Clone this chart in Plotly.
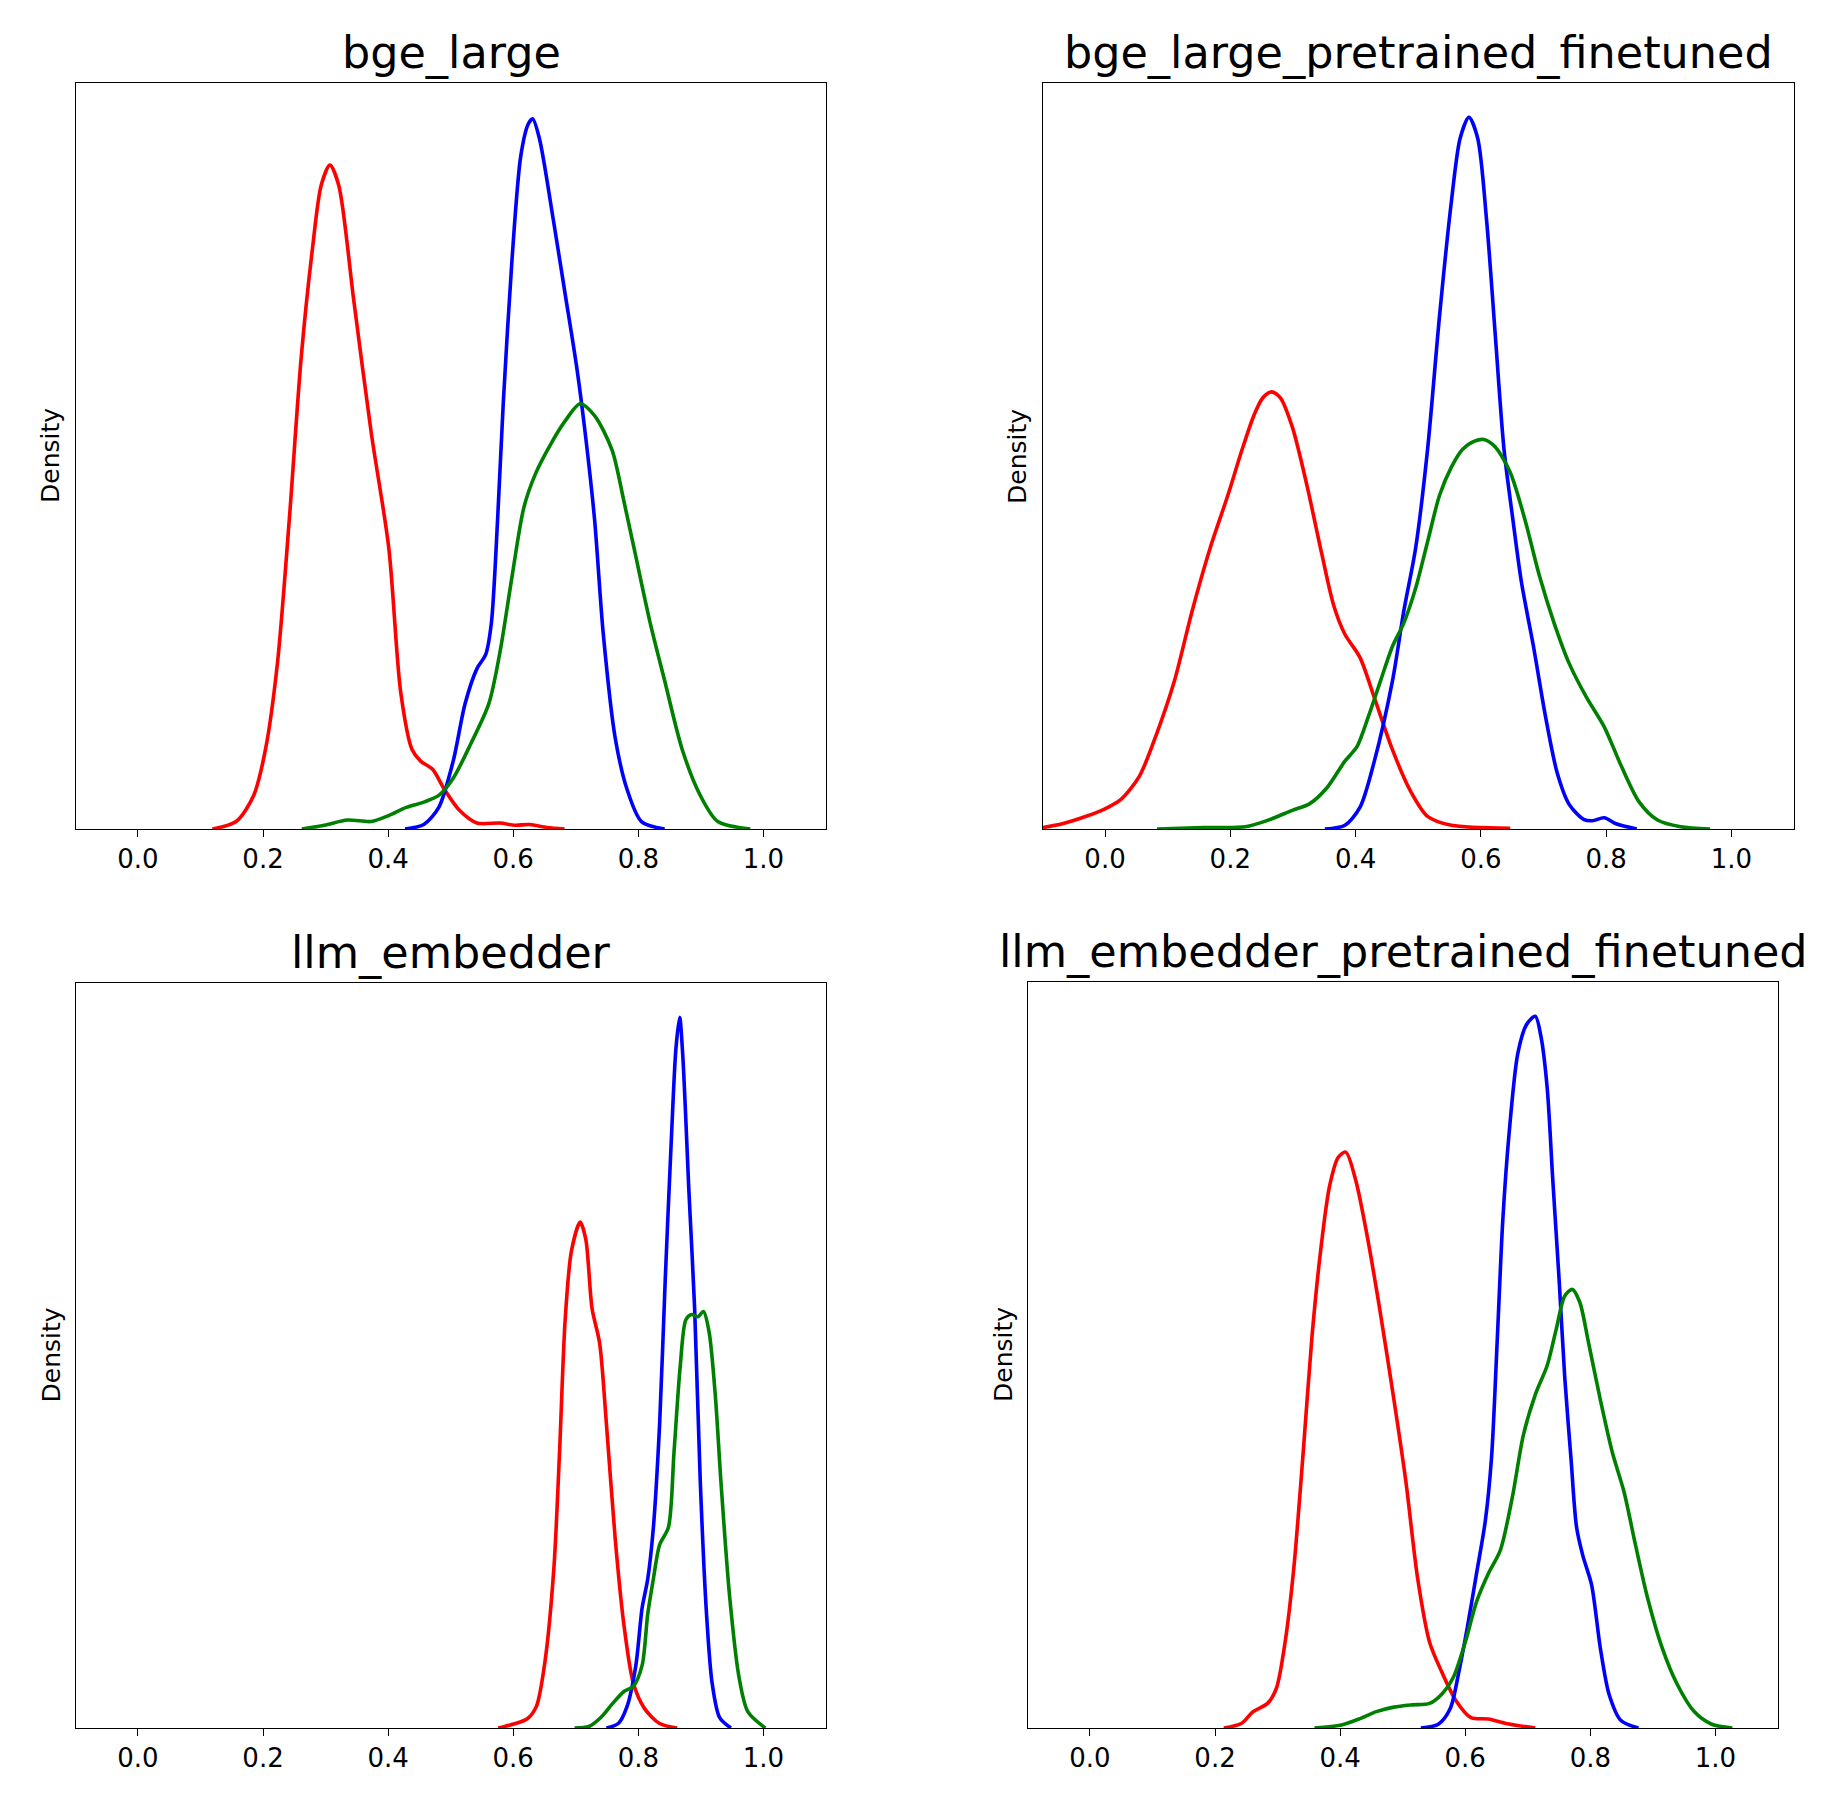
import plotly.graph_objects as go
from plotly.subplots import make_subplots

W, H = 1844, 1809

titles = ["bge_large", "bge_large_pretrained_finetuned",
          "llm_embedder", "llm_embedder_pretrained_finetuned"]

tick_vals = [0.0, 0.2, 0.4, 0.6, 0.8, 1.0]
tick_text = ["0.0", "0.2", "0.4", "0.6", "0.8", "1.0"]

# curves, y is relative density (axes height = 1)
# --- bge_large
bge_red_x = [0.119, 0.157, 0.185, 0.204, 0.223, 0.242, 0.261, 0.279, 0.293, 0.307, 0.321, 0.345,
             0.373, 0.401, 0.420, 0.438, 0.452, 0.471, 0.490, 0.514, 0.542, 0.579, 0.603, 0.626,
             0.654, 0.682]
bge_red_y = [0.0, 0.010, 0.045, 0.107, 0.222, 0.415, 0.632, 0.778, 0.863, 0.890, 0.863, 0.709,
             0.531, 0.377, 0.184, 0.107, 0.091, 0.080, 0.053, 0.025, 0.008, 0.008, 0.005, 0.006,
             0.002, 0.0]
bge_blue_x = [0.427, 0.457, 0.481, 0.504, 0.523, 0.542, 0.556, 0.565, 0.575, 0.584, 0.598, 0.612,
              0.624, 0.631, 0.642, 0.664, 0.683, 0.702, 0.716, 0.730, 0.744, 0.763, 0.782, 0.805,
              0.842]
bge_blue_y = [0.0, 0.006, 0.029, 0.091, 0.168, 0.215, 0.234, 0.276, 0.415, 0.570, 0.763, 0.902,
              0.945, 0.952, 0.925, 0.817, 0.717, 0.616, 0.524, 0.415, 0.261, 0.122, 0.053, 0.010,
              0.0]
bge_green_x = [0.262, 0.298, 0.335, 0.373, 0.401, 0.429, 0.457, 0.481, 0.504, 0.532, 0.561, 0.579,
               0.598, 0.617, 0.636, 0.660, 0.683, 0.707, 0.730, 0.758, 0.777, 0.795, 0.819, 0.842,
               0.870, 0.899, 0.927, 0.979]
bge_green_y = [0.0, 0.005, 0.012, 0.010, 0.018, 0.029, 0.036, 0.045, 0.068, 0.114, 0.168, 0.238,
               0.338, 0.431, 0.477, 0.516, 0.547, 0.570, 0.554, 0.508, 0.439, 0.369, 0.276, 0.199,
               0.107, 0.045, 0.010, 0.0]

# --- bge_large_pretrained_finetuned
bgeft_red_x = [-0.099, -0.068, -0.030, 0.0, 0.026, 0.055, 0.083, 0.111, 0.139, 0.168, 0.196, 0.219,
               0.238, 0.252, 0.266, 0.280, 0.299, 0.322, 0.346, 0.365, 0.383, 0.407, 0.430, 0.459,
               0.487, 0.515, 0.553, 0.647]
bgeft_red_y = [0.002, 0.007, 0.017, 0.027, 0.040, 0.071, 0.129, 0.199, 0.292, 0.377, 0.447, 0.509,
               0.555, 0.578, 0.586, 0.578, 0.539, 0.462, 0.369, 0.300, 0.261, 0.230, 0.176, 0.106,
               0.052, 0.017, 0.005, 0.001]
bgeft_blue_x = [0.351, 0.383, 0.407, 0.430, 0.459, 0.477, 0.496, 0.515, 0.534, 0.553, 0.567, 0.581,
                0.595, 0.609, 0.623, 0.637, 0.651, 0.665, 0.684, 0.703, 0.722, 0.741, 0.764, 0.778,
                0.797, 0.816, 0.849]
bgeft_blue_y = [0.0, 0.005, 0.029, 0.091, 0.199, 0.292, 0.377, 0.509, 0.687, 0.841, 0.926, 0.954,
                0.926, 0.818, 0.663, 0.509, 0.416, 0.330, 0.245, 0.152, 0.075, 0.033, 0.013, 0.011,
                0.015, 0.007, 0.0]
bgeft_green_x = [0.083, 0.158, 0.224, 0.261, 0.299, 0.327, 0.355, 0.383, 0.402, 0.421, 0.440, 0.459,
                 0.477, 0.496, 0.515, 0.534, 0.553, 0.571, 0.590, 0.605, 0.623, 0.647, 0.670, 0.694,
                 0.717, 0.741, 0.769, 0.797, 0.825, 0.853, 0.882, 0.919, 0.966]
bgeft_green_y = [0.0, 0.002, 0.003, 0.012, 0.025, 0.034, 0.056, 0.091, 0.110, 0.152, 0.199, 0.245,
                 0.276, 0.323, 0.385, 0.447, 0.485, 0.509, 0.520, 0.522, 0.512, 0.478, 0.416, 0.338,
                 0.276, 0.222, 0.176, 0.137, 0.083, 0.036, 0.012, 0.003, 0.0]

# --- llm_embedder
llm_red_x = [0.576, 0.599, 0.622, 0.637, 0.651, 0.665, 0.674, 0.683, 0.693, 0.707, 0.716, 0.726,
             0.738, 0.749, 0.763, 0.777, 0.792, 0.810, 0.834, 0.862]
llm_red_y = [0.0, 0.005, 0.012, 0.029, 0.091, 0.215, 0.370, 0.548, 0.640, 0.679, 0.656, 0.563,
             0.517, 0.408, 0.254, 0.138, 0.060, 0.026, 0.006, 0.0]
llm_blue_x = [0.749, 0.768, 0.782, 0.796, 0.806, 0.815, 0.824, 0.834, 0.843, 0.853, 0.860, 0.866,
              0.871, 0.881, 0.890, 0.899, 0.909, 0.918, 0.930, 0.948]
llm_blue_y = [0.0, 0.006, 0.029, 0.084, 0.161, 0.200, 0.269, 0.408, 0.602, 0.795, 0.911, 0.954,
              0.903, 0.718, 0.563, 0.331, 0.153, 0.060, 0.014, 0.0]
llm_green_x = [0.698, 0.721, 0.740, 0.759, 0.777, 0.792, 0.806, 0.815, 0.824, 0.834, 0.848, 0.857,
               0.867, 0.876, 0.885, 0.895, 0.904, 0.913, 0.923, 0.932, 0.946, 0.961, 0.975, 1.003]
llm_green_y = [0.0, 0.002, 0.014, 0.033, 0.049, 0.056, 0.084, 0.153, 0.200, 0.246, 0.269, 0.370,
               0.486, 0.548, 0.555, 0.552, 0.559, 0.532, 0.447, 0.331, 0.176, 0.068, 0.022, 0.0]

# --- llm_embedder_pretrained_finetuned
llmft_red_x = [0.214, 0.242, 0.261, 0.284, 0.298, 0.312, 0.326, 0.341, 0.355, 0.369, 0.383, 0.397,
               0.409, 0.425, 0.444, 0.463, 0.486, 0.505, 0.524, 0.543, 0.562, 0.585, 0.609, 0.637,
               0.665, 0.712]
llmft_red_y = [0.0, 0.006, 0.022, 0.033, 0.053, 0.115, 0.215, 0.370, 0.525, 0.641, 0.726, 0.765,
               0.772, 0.734, 0.656, 0.563, 0.440, 0.331, 0.200, 0.115, 0.076, 0.037, 0.014, 0.012,
               0.006, 0.0]
llmft_blue_x = [0.529, 0.557, 0.576, 0.590, 0.604, 0.618, 0.632, 0.642, 0.651, 0.660, 0.670, 0.684,
                0.698, 0.712, 0.721, 0.731, 0.740, 0.750, 0.759, 0.769, 0.778, 0.788, 0.802, 0.816,
                0.830, 0.849, 0.877]
llmft_blue_y = [0.0, 0.005, 0.026, 0.076, 0.138, 0.207, 0.277, 0.362, 0.517, 0.680, 0.796, 0.904,
                0.943, 0.954, 0.927, 0.858, 0.734, 0.602, 0.471, 0.362, 0.269, 0.231, 0.192, 0.107,
                0.045, 0.010, 0.0]
llmft_green_x = [0.359, 0.402, 0.430, 0.458, 0.486, 0.515, 0.543, 0.562, 0.581, 0.600, 0.618, 0.637,
                 0.656, 0.675, 0.693, 0.712, 0.731, 0.745, 0.759, 0.771, 0.783, 0.797, 0.816, 0.835,
                 0.854, 0.872, 0.891, 0.915, 0.938, 0.966, 0.994, 1.027]
llmft_green_y = [0.0, 0.004, 0.012, 0.022, 0.028, 0.031, 0.033, 0.045, 0.068, 0.115, 0.169, 0.207,
                 0.238, 0.308, 0.393, 0.447, 0.486, 0.533, 0.579, 0.588, 0.571, 0.517, 0.440, 0.370,
                 0.316, 0.246, 0.176, 0.107, 0.060, 0.022, 0.005, 0.0]

panels = [
    [(bge_red_x, bge_red_y), (bge_blue_x, bge_blue_y), (bge_green_x, bge_green_y)],
    [(bgeft_red_x, bgeft_red_y), (bgeft_blue_x, bgeft_blue_y), (bgeft_green_x, bgeft_green_y)],
    [(llm_red_x, llm_red_y), (llm_blue_x, llm_blue_y), (llm_green_x, llm_green_y)],
    [(llmft_red_x, llmft_red_y), (llmft_blue_x, llmft_blue_y), (llmft_green_x, llmft_green_y)],
]
colors = ["red", "blue", "green"]

# axes boxes in pixels: left, right, top, bottom
boxes = [(76, 826, 83, 829), (1043, 1794, 83, 829),
         (76, 826, 983, 1728), (1028, 1778, 982, 1728)]

FONT = "DejaVu Sans"

fig = make_subplots(rows=2, cols=2)

for i, curves in enumerate(panels):
    r, c = i // 2 + 1, i % 2 + 1
    for (xs, ys), col in zip(curves, colors):
        fig.add_trace(
            go.Scatter(x=xs, y=ys, mode="lines",
                       line=dict(color=col, width=3.6, shape="spline", smoothing=0.8),
                       showlegend=False, hoverinfo="skip"),
            row=r, col=c
        )

annotations = []
for i, (l, rgt, t, b) in enumerate(boxes):
    n = "" if i == 0 else str(i + 1)
    fig.layout["xaxis" + n].update(
        domain=[l / W, rgt / W], range=[-0.099, 1.1],
        tickvals=tick_vals, ticktext=tick_text, ticks="outside", ticklen=7, tickwidth=1.2,
        tickcolor="black", tickfont=dict(size=26, color="black", family=FONT),
        showline=True, mirror=True, linecolor="black", linewidth=1.2,
        showgrid=False, zeroline=False,
    )
    fig.layout["yaxis" + n].update(
        domain=[1 - b / H, 1 - t / H], range=[0, 1],
        showticklabels=False, ticks="", showline=True, mirror=True,
        linecolor="black", linewidth=1.2, showgrid=False, zeroline=False,
    )
    annotations.append(dict(
        text=titles[i], xref="paper", yref="paper",
        x=(l + rgt) / 2 / W, y=1 - t / H, xanchor="center", yanchor="bottom",
        yshift=2, showarrow=False, font=dict(size=44.5, color="black", family=FONT)))
    annotations.append(dict(
        text="Density", xref="paper", yref="paper", textangle=-90,
        x=(l - 25) / W, y=1 - (t + b) / 2 / H, xanchor="center", yanchor="middle",
        showarrow=False, font=dict(size=25, color="black", family=FONT)))

fig.update_layout(
    width=W, height=H, margin=dict(l=0, r=0, t=0, b=0),
    paper_bgcolor="white", plot_bgcolor="white",
    annotations=annotations, font=dict(family=FONT),
)

fig.write_html("out.html", config={"displayModeBar": False},
               post_script="document.body.style.margin='0';")
